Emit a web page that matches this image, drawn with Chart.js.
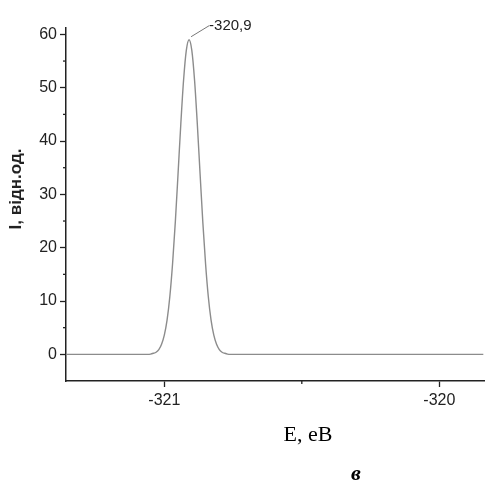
<!DOCTYPE html>
<html>
<head>
<meta charset="utf-8">
<script src="https://cdn.jsdelivr.net/npm/chart.js@4.4.1/dist/chart.umd.min.js"></script>
<style>
    html, body { margin: 0; padding: 0; background: #fff; }
    #wrap { width: 485px; height: 483px; }
</style>
</head>
<body>
<div id="wrap"><canvas id="xpsChart" width="485" height="483"></canvas></div>
<script>
    // spectrum (E in eV, I in arb. units)
    const energy = [-321.36, -321.06, -321.05, -321.04, -321.03, -321.02, -321.01, -321.00,
        -320.99, -320.98, -320.97, -320.96, -320.95, -320.94, -320.93, -320.92, -320.91,
        -320.90, -320.89, -320.88, -320.87, -320.86, -320.85, -320.84, -320.83, -320.82,
        -320.81, -320.80, -320.79, -320.78, -320.77, -320.76, -319.84];
    const intensity = [0, 0, 0.05, 0.2, 0.4, 0.9, 1.9, 3.6,
        6.4, 10.8, 17.0, 24.8, 33.9, 43.2, 51.4, 57.0, 59.0,
        57.0, 51.4, 43.2, 33.9, 24.8, 17.0, 10.8, 6.4, 3.6,
        1.9, 0.9, 0.4, 0.2, 0.05, 0, 0];

    const yTicks = [0, 10, 20, 30, 40, 50, 60];
    const yMinorTicks = [5, 15, 25, 35, 45, 55];
    const xTicks = [-321, -320];
    const xMinorTicks = [-320.5];

    const peakEnergy = -320.91;
    const peakIntensity = 59.0;
    const peakLabel = '-320,9';

    const axisColor = '#222';
    const sansFont = "'Liberation Sans', Arial, sans-serif";
    const serifFont = "'Liberation Serif', 'Times New Roman', serif";

    const extras = {
        id: 'extras',
        afterDraw(chart) {
            const ctx = chart.ctx;
            const xs = chart.scales.x, ys = chart.scales.y;
            const area = chart.chartArea;
            ctx.save();

            // minor ticks
            ctx.strokeStyle = axisColor;
            ctx.lineWidth = 1.3;
            yMinorTicks.forEach(v => {
                const py = ys.getPixelForValue(v);
                ctx.beginPath();
                ctx.moveTo(area.left - 3, py);
                ctx.lineTo(area.left, py);
                ctx.stroke();
            });
            xMinorTicks.forEach(v => {
                const px = xs.getPixelForValue(v);
                ctx.beginPath();
                ctx.moveTo(px, area.bottom);
                ctx.lineTo(px, area.bottom + 3);
                ctx.stroke();
            });

            // peak label with leader line
            const px = xs.getPixelForValue(peakEnergy);
            const py = ys.getPixelForValue(peakIntensity);
            ctx.strokeStyle = '#777';
            ctx.lineWidth = 1;
            ctx.beginPath();
            ctx.moveTo(px + 2, py - 3);
            ctx.lineTo(px + 20, py - 14);
            ctx.stroke();
            ctx.fillStyle = '#222';
            ctx.font = '15px ' + sansFont;
            ctx.textAlign = 'left';
            ctx.textBaseline = 'middle';
            ctx.fillText(peakLabel, px + 20, py - 14);

            // y title
            ctx.save();
            ctx.translate(16, 189);
            ctx.rotate(-Math.PI / 2);
            ctx.font = 'bold 17px ' + sansFont;
            ctx.textAlign = 'center';
            ctx.textBaseline = 'middle';
            ctx.fillStyle = '#222';
            ctx.fillText('I, відн.од.', 0, 0);
            ctx.restore();

            // x title and panel letter
            ctx.fillStyle = '#000';
            ctx.textAlign = 'center';
            ctx.textBaseline = 'middle';
            ctx.font = '22px ' + serifFont;
            ctx.fillText('E, eB', 308, 435);
            ctx.font = 'italic bold 22px ' + serifFont;
            ctx.fillText('в', 356, 474);

            ctx.restore();
        }
    };

    const points = energy.map((e, i) => ({x: e, y: intensity[i]}));

    new Chart(document.getElementById('xpsChart'), {
        type: 'line',
        data: {
            datasets: [{
                data: points,
                borderColor: '#8c8c8c',
                borderWidth: 1.4,
                pointRadius: 0,
                fill: false,
                cubicInterpolationMode: 'monotone'
            }]
        },
        options: {
            responsive: false,
            animation: false,
            devicePixelRatio: 1,
            layout: {padding: {top: 28, right: 1, left: 0, bottom: 0}},
            scales: {
                x: {
                    type: 'linear',
                    min: -321.3575,
                    max: -319.8375,
                    afterBuildTicks: scale => { scale.ticks = xTicks.map(v => ({value: v})); },
                    afterFit: scale => { scale.height = 102; },
                    border: {display: true, color: axisColor, width: 1.5},
                    grid: {drawOnChartArea: false, tickLength: 6, tickColor: axisColor, tickWidth: 1.3},
                    ticks: {
                        color: '#222',
                        padding: 4,
                        maxRotation: 0,
                        font: {family: sansFont, size: 16},
                        callback: v => String(v)
                    }
                },
                y: {
                    min: -5,
                    max: 61.2,
                    afterBuildTicks: scale => { scale.ticks = yTicks.map(v => ({value: v})); },
                    afterFit: scale => { scale.width = 66; },
                    border: {display: true, color: axisColor, width: 1.5},
                    grid: {drawOnChartArea: false, tickLength: 6, tickColor: axisColor, tickWidth: 1.3},
                    ticks: {
                        color: '#222',
                        padding: 3,
                        font: {family: sansFont, size: 16},
                        callback: v => String(v)
                    }
                }
            },
            plugins: {
                legend: {display: false},
                tooltip: {enabled: false}
            }
        },
        plugins: [extras]
    });
</script>
</body>
</html>
